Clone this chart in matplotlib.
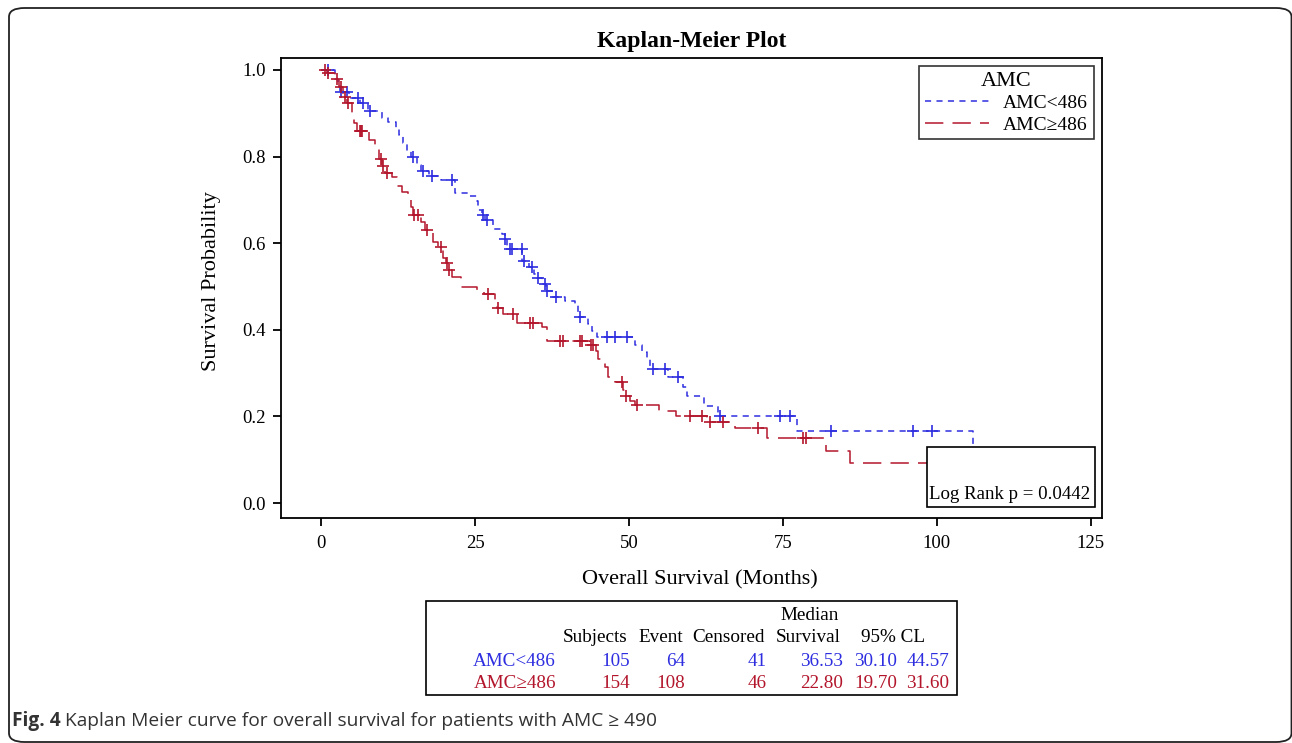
import numpy as np
import matplotlib
matplotlib.use("Agg")
import matplotlib.pyplot as plt
from matplotlib.patches import Rectangle, FancyBboxPatch
from matplotlib.lines import Line2D

# Kaplan-Meier step data (months, survival after the step)
low_times = [0, 2.2, 2.8, 3.1, 4.6, 6.4, 7.6, 9.9, 10.9, 12.2, 12.7, 13.3, 13.9, 14.6,
             15.6, 16.3, 17.5, 19.5, 21.8, 23.9, 25.3, 25.5, 26.1, 26.7, 28.0, 29.4,
             29.8, 30.2, 32.7, 33.8, 34.6, 35.0, 35.9, 36.55, 37.5, 39.6, 41.2, 41.8,
             43.3, 44.0, 44.8, 51.0, 52.1, 52.9, 53.4, 56.3, 58.8, 59.4, 62.2, 64.4,
             77.3, 105.9]
low_surv = [1.0, 0.98, 0.965, 0.95, 0.935, 0.924, 0.905, 0.889, 0.88, 0.866, 0.85, 0.831,
            0.813, 0.80, 0.78, 0.767, 0.755, 0.746, 0.716, 0.709, 0.697, 0.677, 0.665,
            0.654, 0.633, 0.621, 0.61, 0.587, 0.559, 0.545, 0.53, 0.52, 0.506, 0.49,
            0.476, 0.466, 0.458, 0.43, 0.413, 0.398, 0.383, 0.365, 0.349, 0.332, 0.31,
            0.291, 0.268, 0.247, 0.225, 0.202, 0.167, 0.0]
low_cens = [1.2, 3.3, 4.2, 6.0, 6.8, 8.0, 15.0, 16.5, 18.0, 21.2, 26.3, 26.9, 29.9, 30.7,
            31.0, 32.6, 32.9, 34.3, 35.2, 36.4, 36.7, 38.1, 42.0, 46.5, 47.8, 49.7, 53.9,
            55.9, 57.9, 64.7, 74.6, 76.1, 82.8, 96.1, 99.2]

high_times = [0, 1.0, 2.2, 2.9, 3.6, 4.2, 5.0, 5.3, 5.8, 7.8, 8.7, 9.4, 9.9, 10.4, 11.5,
              12.3, 13.1, 14.1, 14.6, 15.0, 16.3, 16.9, 18.2, 19.0, 19.8, 20.3, 20.7,
              21.2, 22.7, 25.4, 26.5, 28.2, 28.5, 29.5, 31.8, 35.8, 36.7, 43.6, 44.6,
              44.9, 46.1, 46.6, 47.8, 49.1, 49.3, 50.2, 51.0, 54.9, 57.6, 62.6, 67.2,
              72.4, 82.0, 85.9, 103.0]
high_surv = [1.0, 0.993, 0.98, 0.96, 0.937, 0.924, 0.90, 0.877, 0.859, 0.838, 0.82, 0.794,
             0.778, 0.762, 0.753, 0.732, 0.718, 0.704, 0.683, 0.665, 0.648, 0.63, 0.603,
             0.591, 0.566, 0.554, 0.538, 0.522, 0.499, 0.49, 0.483, 0.469, 0.45, 0.436,
             0.416, 0.406, 0.374, 0.366, 0.35, 0.333, 0.314, 0.291, 0.28, 0.262, 0.247,
             0.236, 0.226, 0.213, 0.20, 0.187, 0.173, 0.15, 0.12, 0.092, 0.092]
high_cens = [0.6, 1.1, 2.6, 3.2, 3.9, 4.4, 6.3, 6.5, 6.7, 9.7, 10.0, 10.7, 15.1, 15.7,
             17.2, 19.5, 20.5, 20.8, 27.1, 28.7, 31.2, 34.0, 34.4, 38.8, 39.3, 42.0, 42.4,
             43.8, 44.2, 48.9, 49.5, 51.3, 59.9, 61.9, 63.2, 65.3, 70.9, 78.2, 78.7]

groups = ["AMC<486", "AMC\u2265486"]
subjects = ["105", "154"]
events = ["64", "108"]
censored = ["41", "46"]
median_surv = ["36.53", "22.80"]
ci_low = ["30.10", "19.70"]
ci_high = ["44.57", "31.60"]
p_value = "0.0442"

BLUE = "#2e2ee0"
RED = "#b3162c"
W, H = 1292, 743

plt.rcParams["font.family"] = ["Liberation Serif", "DejaVu Serif"]


def step_at(times, surv, t):
    idx = np.searchsorted(times, t, side="right") - 1
    return np.asarray(surv)[idx]


def fx(px):
    return px / W


def fy(py):
    return 1 - py / H


fig = plt.figure(figsize=(W / 100, H / 100), dpi=100)

# rounded outer frame
fig.patches.append(FancyBboxPatch((fx(9), fy(742)), fx(1291.5) - fx(9), fy(8) - fy(742),
                                  boxstyle="round,pad=0,rounding_size=0.012",
                                  transform=fig.transFigure, fill=False,
                                  edgecolor="#222222", linewidth=1.3))

ax = fig.add_axes([fx(281), fy(518), fx(1102) - fx(281), fy(58) - fy(518)])

ln_low, = ax.step(low_times, low_surv, where="post", color=BLUE, lw=1.1,
                  linestyle=(0, (4, 3.5)))
ln_high, = ax.step(high_times, high_surv, where="post", color=RED, lw=1.1,
                   linestyle=(0, (12, 6)))
ax.plot(low_cens, step_at(low_times, low_surv, low_cens), "+", color=BLUE,
        ms=9, mew=1.2, linestyle="none")
ax.plot(high_cens, step_at(high_times, high_surv, high_cens), "+", color=RED,
        ms=9, mew=1.2, linestyle="none")

ax.set_xlim(-6.5, 126.8)
ax.set_ylim(-0.0346, 1.0277)
ax.set_xticks([0, 25, 50, 75, 100, 125])
ax.set_yticks([0.0, 0.2, 0.4, 0.6, 0.8, 1.0])
ax.set_yticklabels(["0.0", "0.2", "0.4", "0.6", "0.8", "1.0"])
ax.tick_params(direction="out", length=6, width=1.3, labelsize=13.5, pad=5)
ax.tick_params(axis="x", pad=6)
for s in ax.spines.values():
    s.set_linewidth(1.3)

ax.set_xlabel("Overall Survival (Months)", fontsize=16)
ax.xaxis.set_label_coords(0.51, -0.113)
ax.set_ylabel("Survival Probability", fontsize=16)
ax.yaxis.set_label_coords(-0.073, 0.515)
ax.set_title("Kaplan-Meier Plot", fontsize=17, fontweight="bold", pad=8)

leg = ax.legend([Line2D([], [], color=BLUE, lw=1.1, linestyle=(0, (4, 3.5))),
                 Line2D([], [], color=RED, lw=1.1, linestyle=(0, (12, 6)))],
                groups, title="AMC", loc="upper right", bbox_to_anchor=(0.99, 0.983),
                fontsize=14, title_fontsize=16, frameon=True, fancybox=False,
                handlelength=3.3, handletextpad=0.7, borderpad=0.3, labelspacing=0.2,
                borderaxespad=0)
leg.get_frame().set_edgecolor("black")
leg.get_frame().set_linewidth(1.2)

# log rank box
ax.add_patch(Rectangle((0.787, 0.024), 0.204, 0.130, transform=ax.transAxes,
                       facecolor="white", edgecolor="black", lw=1.2, zorder=5))
ax.text(0.986, 0.032, f"Log Rank p = {p_value}", transform=ax.transAxes,
        ha="right", va="bottom", fontsize=13.6, zorder=6)

# summary table
fig.patches.append(Rectangle((fx(426), fy(695)), fx(957) - fx(426), fy(601) - fy(695),
                             transform=fig.transFigure, fill=False,
                             edgecolor="black", linewidth=1.2))
col_right = [556, 630, 685, 767, 843, 897, 949]
fs_tab = 13.8
fig.text(fx(810), fy(615), "Median", ha="center", va="center", fontsize=fs_tab)
for x, h in zip(col_right[1:5], ["Subjects", "Event", "Censored", "Survival"]):
    fig.text(fx(x - 2), fy(637), h, ha="right", va="center", fontsize=fs_tab)
fig.text(fx(893), fy(637), "95% CL", ha="center", va="center", fontsize=fs_tab)
for i, c in enumerate([BLUE, RED]):
    row = [groups[i], subjects[i], events[i], censored[i], median_surv[i],
           ci_low[i], ci_high[i]]
    for x, v in zip(col_right, row):
        fig.text(fx(x), fy(661 + 23 * i), v, ha="right", va="center",
                 fontsize=fs_tab, color=c)

# caption
cap = fig.text(fx(12), fy(721), "Fig. 4", ha="left", va="center", fontsize=13.8,
               fontweight="bold", color="#333333", family=["Open Sans", "DejaVu Sans"])
ax.annotate("Kaplan Meier curve for overall survival for patients with AMC \u2265 490",
            xy=(1, 0.5), xycoords=cap, xytext=(3, 0), textcoords="offset points",
            ha="left", va="center", fontsize=13.8, color="#333333",
            family=["Open Sans", "DejaVu Sans"], annotation_clip=False)

fig.savefig("out.png", dpi=100)
